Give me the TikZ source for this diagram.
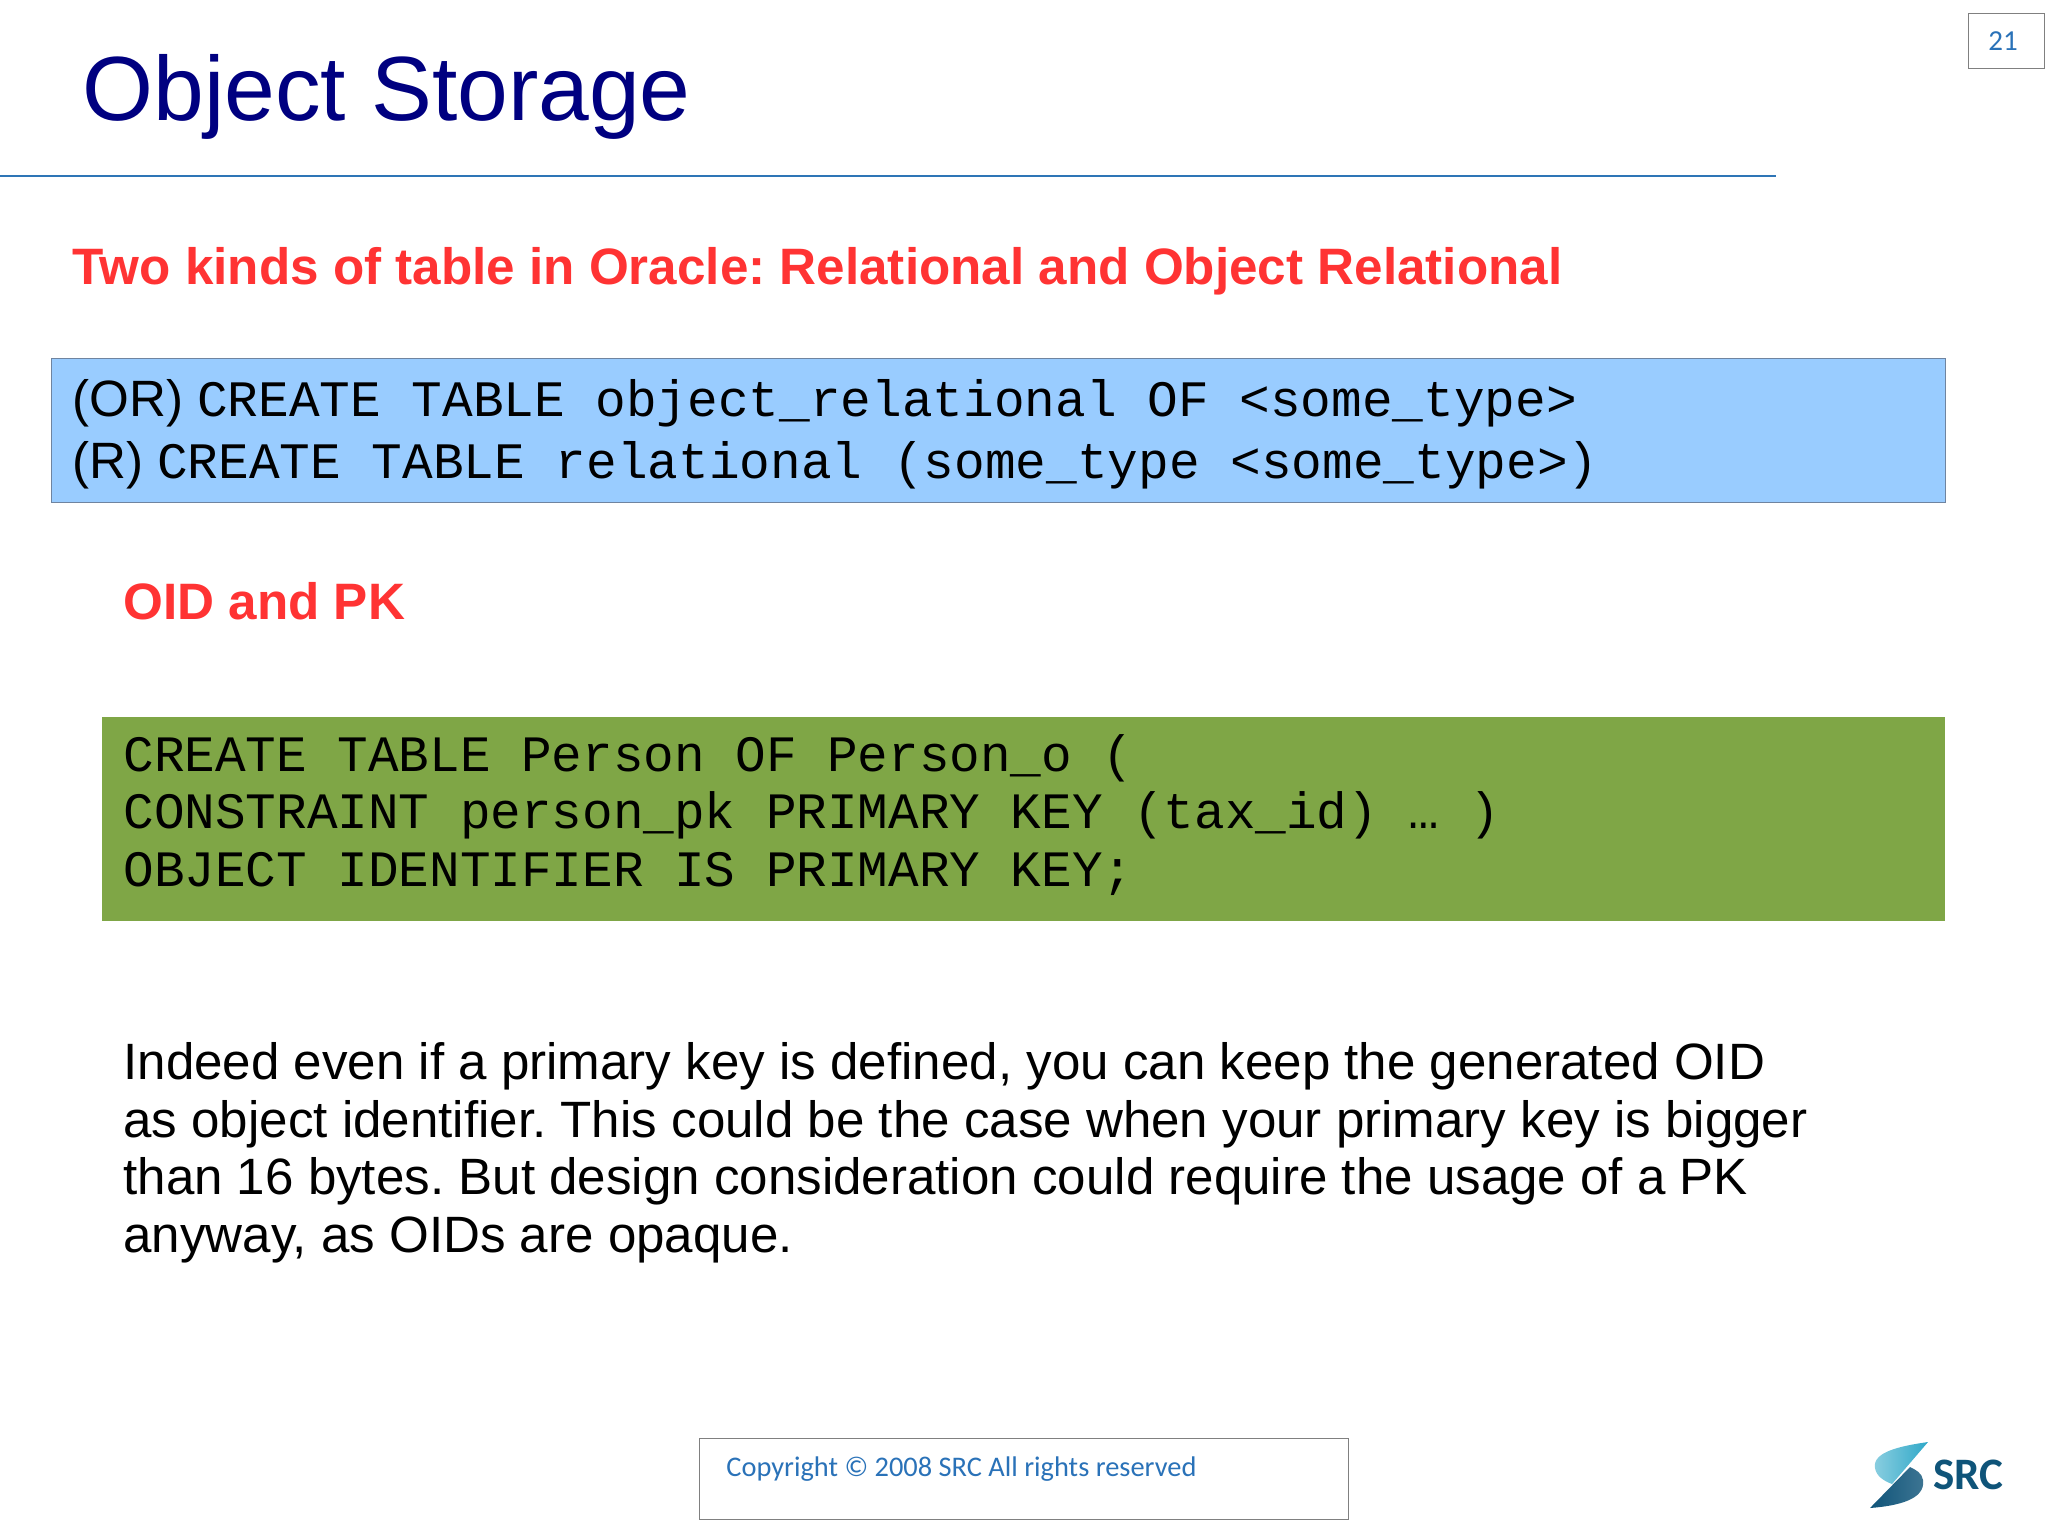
\documentclass[tikz,border=0pt]{standalone}
\usepackage{fontspec}
\setmainfont{Liberation Sans}
\setmonofont{Liberation Mono}
\newfontfamily\footfont{Carlito}
\frenchspacing
\definecolor{titleblue}{HTML}{000080}
\definecolor{headred}{HTML}{FF3333}
\definecolor{rulecol}{HTML}{2E75B6}
\definecolor{skyfill}{HTML}{99CCFF}
\definecolor{skyedge}{HTML}{6F84A0}
\definecolor{grassfill}{HTML}{7FA646}
\definecolor{footblue}{HTML}{2A72B8}
\definecolor{logodark}{HTML}{0F5479}
\definecolor{logolight}{HTML}{2FA8C8}
\tikzset{
    txt/.style={anchor=base west,inner sep=0pt,align=left},
    heading/.style={txt,text=headred,font=\fontsize{25.6}{30}\selectfont\bfseries},
    codebox/.style={anchor=north west,inner sep=0pt},
    framebox/.style={draw=gray,line width=0.6pt,anchor=north west,inner sep=0pt},
}
\begin{document}
\begin{tikzpicture}[x=0.5pt,y=-0.5pt]
    \useasboundingbox (0,0) rectangle (2048,1536);
    \node[txt,text=titleblue,font=\fontsize{45.6}{50}\selectfont] (title) at (82,120) {Object Storage};
    \coordinate (ruleL) at (0,176);
    \coordinate (ruleR) at (1776,176);
    \draw[rulecol,line width=0.8pt] (ruleL) -- (ruleR);
    \node[framebox,minimum width=38pt,minimum height=27.5pt] (pagebox) at (1968,13) {};
    \node[text=footblue,font=\footfont\fontsize{14.5}{16}\selectfont,inner sep=0pt] (pagenum) at (2003,41) {21};

    \node[heading] (kinds) at (72,284) {Two kinds of table in Oracle: Relational and Object Relational};

    \node[codebox,fill=skyfill,draw=skyedge,line width=0.6pt,minimum width=947pt,minimum height=72pt] (orbox) at (51,358) {};
    \node[txt,font=\fontsize{25.55}{31}\selectfont] (orline) at (72,416) {(OR)\hspace{7pt}\ttfamily CREATE TABLE object\_relational OF <some\_type>};
    \node[txt,font=\fontsize{25.55}{31}\selectfont] (rline) at (72,478) {(R)\hspace{7pt}\ttfamily CREATE TABLE relational (some\_type <some\_type>)};

    \node[heading] (oid) at (123,619) {OID and PK};

    \node[codebox,fill=grassfill,minimum width=921.5pt,minimum height=102pt] (pkbox) at (102,717) {};
    \node[txt,font=\ttfamily\fontsize{25.5}{28.75}\selectfont] (pkcode) at (123,886) {CREATE TABLE Person OF Person\_o (\\
CONSTRAINT person\_pk PRIMARY KEY (tax\_id) … )\\
OBJECT IDENTIFIER IS PRIMARY KEY;};

    \node[txt,font=\fontsize{25.55}{28.75}\selectfont] (body) at (123,1252) {Indeed even if a primary key is defined, you can keep the generated OID\\
as object identifier. This could be the case when your primary key is bigger\\
than 16 bytes. But design consideration could require the usage of a PK\\
anyway, as OIDs are opaque.};

    \node[framebox,minimum width=324.5pt,minimum height=40.5pt] (footbox) at (699,1438) {};
    \node[txt,text=footblue,font=\footfont\fontsize{14.2}{17}\selectfont] (copyright) at (726,1476) {Copyright © 2008 SRC All rights reserved};

    % logo
    \shade[left color=logolight!55!white,right color=logolight] (1928,1442) .. controls (1900,1446) and (1872,1452) .. (1875,1468) .. controls (1876,1476) and (1884,1481) .. (1892,1484) -- cycle;
    \shade[left color=logodark,right color=logodark!80!white] (1870,1508) .. controls (1896,1506) and (1926,1500) .. (1923,1480) .. controls (1922,1473) and (1916,1470) .. (1910,1467) -- cycle;
    \node[txt,text=logodark,font=\footfont\fontsize{22.5}{25}\selectfont\bfseries] (srclogo) at (1933,1489) {SRC};
\end{tikzpicture}
\end{document}
